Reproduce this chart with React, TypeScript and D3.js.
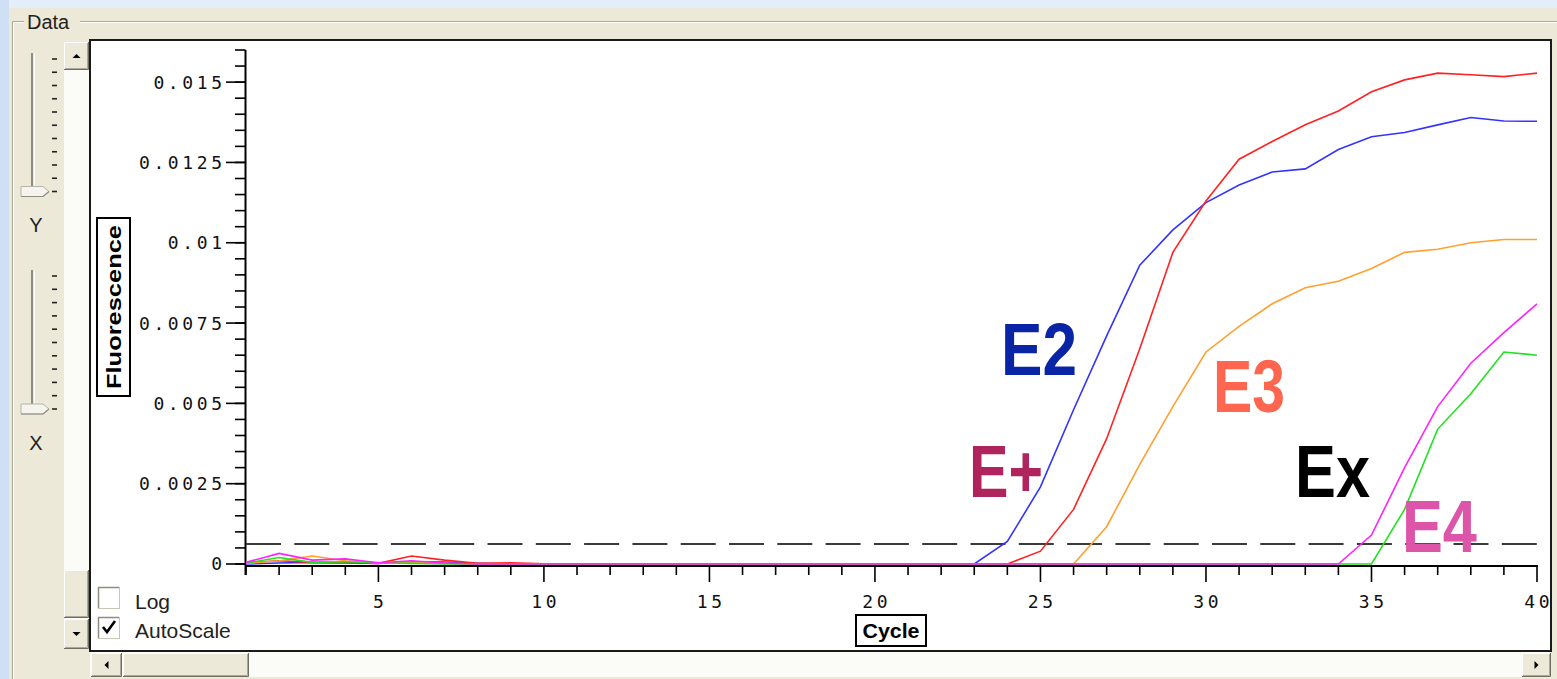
import React from "react";
import * as d3 from "d3";

// PCR amplification curves, cycles 1..40 (baseline-corrected fluorescence)
const cycles: number[] = d3.range(1, 41);

const blueSeries: number[] = [
  0, 0.00003, 0.00005, 0.00004, 0.00002, 0.00007, 0.00006, 0.00002, 0, 0,
  0, 0, 0, 0, 0, 0, 0, 0, 0, 0,
  0, 0, 0, 0.0007, 0.0024, 0.0048, 0.0071, 0.0093, 0.0104, 0.01125,
  0.0118, 0.0122, 0.0123, 0.0129, 0.0133, 0.01343, 0.01367, 0.0139, 0.01379, 0.01378,
];
const redSeries: number[] = [
  0.00004, 0.0001, 0.00005, 0.00003, 0.00002, 0.00025, 0.00012, 0.00002, 0.00004, 0.00001,
  0, 0, 0, 0, 0, 0, 0, 0, 0, 0,
  0, 0, 0, 0, 0.0004, 0.0017, 0.0039, 0.0067, 0.0097, 0.0113,
  0.0126, 0.01315, 0.01367, 0.0141, 0.0147, 0.01507, 0.01528, 0.01523, 0.01517, 0.01528,
];
const orangeSeries: number[] = [
  0.00002, 0.0001, 0.00025, 0.0001, 0.00003, 0.00006, 0.00002, 0, 0, 0,
  0, 0, 0, 0, 0, 0, 0, 0, 0, 0,
  0, 0, 0, 0, 0, 0, 0.00116, 0.0031, 0.0049, 0.0066,
  0.0074, 0.0081, 0.0086, 0.0088, 0.0092, 0.0097, 0.0098, 0.01, 0.0101, 0.0101,
];
const greenSeries: number[] = [
  0.00003, 0.0002, 0.00005, 0.00007, 0.00004, 0.00002, 0, 0, 0, 0,
  0, 0, 0, 0, 0, 0, 0, 0, 0, 0,
  0, 0, 0, 0, 0, 0, 0, 0, 0, 0,
  0, 0, 0, 0, 0, 0.0017, 0.0042, 0.0053, 0.0066, 0.0065,
];
const magentaSeries: number[] = [
  0.00005, 0.00033, 0.00012, 0.00016, 0.00004, 0.0001, 0.00003, 0, 0, 0,
  0, 0, 0, 0, 0, 0, 0, 0, 0, 0,
  0, 0, 0, 0, 0, 0, 0, 0, 0, 0,
  0, 0, 0, 0, 0.0009, 0.003, 0.0049, 0.00625, 0.0072, 0.0081,
];

const seriesList = [
  { name: "blue", values: blueSeries, color: "#3333ff" },
  { name: "red", values: redSeries, color: "#ff2222" },
  { name: "orange", values: orangeSeries, color: "#ffa030" },
  { name: "green", values: greenSeries, color: "#22e022" },
  { name: "magenta", values: magentaSeries, color: "#ff22ff" },
];

const threshold = 0.00062;

const yMajorTicks: number[] = [0, 0.0025, 0.005, 0.0075, 0.01, 0.0125, 0.015];
const yTickLabels: string[] = ["0", "0.0025", "0.005", "0.0075", "0.01", "0.0125", "0.015"];
const xMajorTicks: number[] = [5, 10, 15, 20, 25, 30, 35, 40];
const xTickLabels: string[] = ["5", "10", "15", "20", "25", "30", "35", "40"];

// Curve annotations: text, anchor cycle (left edge), anchor value (baseline)
const annotTexts: string[] = ["E2", "E3", "E+", "Ex", "E4"];
const annotCycles: number[] = [23.81, 30.21, 22.84, 32.69, 35.92];
const annotValues: number[] = [0.00588, 0.00473, 0.00209, 0.00209, 0.00037];
const annotColors: string[] = ["#0a24a6", "#ff6650", "#b0245e", "#000000", "#dc55a8"];
const annotWidths: number[] = [76, 72, 74, 75, 75];

const W = 1557;
const H = 679;
const BEIGE = "#ece9d8";
const SHADOW = "#aca899";
const DARK = "#716f64";

const tickFont = "'DejaVu Sans Mono', monospace";
const uiFont = "'Liberation Sans', Arial, sans-serif";
const LS = 3.6;

function Button({ x, y, w, h, dir }: { x: number; y: number; w: number; h: number; dir: string }) {
  const cx = x + w / 2;
  const cy = y + h / 2;
  let tri = "";
  if (dir === "up") tri = `M${cx - 4},${cy + 2} L${cx + 4},${cy + 2} L${cx},${cy - 2} Z`;
  if (dir === "down") tri = `M${cx - 4},${cy - 2} L${cx + 4},${cy - 2} L${cx},${cy + 2} Z`;
  if (dir === "left") tri = `M${cx + 2},${cy - 4} L${cx + 2},${cy + 4} L${cx - 2},${cy} Z`;
  if (dir === "right") tri = `M${cx - 2},${cy - 4} L${cx - 2},${cy + 4} L${cx + 2},${cy} Z`;
  return (
    <g>
      <rect x={x} y={y} width={w} height={h} fill={BEIGE} />
      <path d={`M${x + 0.5},${y + h} V${y + 0.5} H${x + w}`} stroke="#ffffff" fill="none" />
      <path d={`M${x},${y + h - 0.5} H${x + w - 0.5} V${y}`} stroke={DARK} fill="none" />
      <path d={`M${x + 1},${y + h - 1.5} H${x + w - 1.5} V${y + 1}`} stroke={SHADOW} fill="none" />
      {tri && <path d={tri} fill="#000" />}
    </g>
  );
}

function Slider({ top, bottom, label, labelY }: { top: number; bottom: number; label: string; labelY: number }) {
  const ticks = d3.range(0, 11).map((i) => top + ((bottom - top) * i) / 10);
  return (
    <g>
      <line x1={32} x2={32} y1={top - 6} y2={bottom + 2} stroke="#8f8c80" strokeWidth={2} />
      <line x1={34.5} x2={34.5} y1={top - 6} y2={bottom + 2} stroke="#ffffff" strokeWidth={1} />
      {ticks.map((t, i) => (
        <line key={i} x1={52} x2={57} y1={t} y2={t} stroke="#222" strokeWidth={1.6} />
      ))}
      <path
        d={`M21,${bottom - 5} H43 L49,${bottom} L43,${bottom + 5} H21 Z`}
        fill="#f5f4ee"
        stroke="#b8b5a6"
        strokeWidth={1}
      />
      <path d={`M21,${bottom + 5} H43 L49,${bottom}`} stroke="#8f8c80" fill="none" strokeWidth={1.2} />
      <text x={36} y={labelY} textAnchor="middle" dominantBaseline="central" fontFamily={uiFont} fontSize={20} fill="#222">
        {label}
      </text>
    </g>
  );
}

export default function App() {
  const x = d3.scaleLinear().domain([1, 40]).range([246, 1537]);
  const y = d3.scaleLinear().domain([0, 0.016]).range([564, 50]);

  const line = d3
    .line<number>()
    .x((_, i) => x(cycles[i]))
    .y((d) => y(d))
    .curve(d3.curveLinear);

  const yMinor = d3.range(0, 0.01601, 0.0005);
  const axisX = 245.5;
  const axisY = 566;
  const thrY = y(threshold);

  return (
    <div style={{ position: "fixed", left: 0, top: 0, width: W, height: H }}>
      <svg width={W} height={H} viewBox={`0 0 ${W} ${H}`} style={{ display: "block" }}>
        <defs>
          <linearGradient id="bgBlue" x1="0" y1="0" x2="0" y2="1">
            <stop offset="0" stopColor="#e3eefa" />
            <stop offset="1" stopColor="#d2e2f5" />
          </linearGradient>
        </defs>
        {/* window background */}
        <rect x={0} y={0} width={W} height={H} fill="url(#bgBlue)" />
        <rect x={0} y={0} width={9} height={H} fill="#cfe0f4" />
        <rect x={9} y={8} width={W - 9} height={H - 8} fill={BEIGE} />

        {/* group box */}
        <path d={`M12.5,${H} V21.5 H24`} stroke={SHADOW} fill="none" />
        <path d={`M13.5,${H} V22.5 H24`} stroke="#ffffff" fill="none" />
        <path d={`M80,21.5 H${W}`} stroke={SHADOW} fill="none" />
        <path d={`M80,22.5 H${W}`} stroke="#ffffff" fill="none" />
        <text x={27} y={29} fontFamily={uiFont} fontSize={20} fill="#222">
          Data
        </text>

        {/* zoom sliders */}
        <Slider top={59} bottom={191.5} label="Y" labelY={225} />
        <Slider top={276} bottom={409} label="X" labelY={443} />

        {/* vertical scrollbar */}
        <rect x={64} y={42} width={25} height={607} fill="#fbfbf8" />
        <Button x={64} y={42} w={25} h={28} dir="up" />
        <Button x={64} y={570} w={25} h={48} dir="" />
        <Button x={64} y={619} w={25} h={30} dir="down" />

        {/* horizontal scrollbar */}
        <rect x={90} y={652} width={1461} height={25} fill="#fbfbf8" />
        <Button x={91} y={653} w={31} h={24} dir="left" />
        <Button x={123} y={653} w={126} h={24} dir="" />
        <Button x={1522} y={653} w={29} h={24} dir="right" />

        {/* plot panel */}
        <rect x={90} y={40} width={1461} height={611} fill="#ffffff" stroke="#1a1a1a" strokeWidth={2} />

        {/* y axis */}
        <line x1={axisX} x2={axisX} y1={y(0.016)} y2={575} stroke="#000" strokeWidth={2} />
        {yMinor.map((v, i) => (
          <line key={`ym${i}`} x1={235} x2={axisX} y1={y(v)} y2={y(v)} stroke="#000" strokeWidth={1.6} />
        ))}
        {yMajorTicks.map((v, i) => (
          <g key={`yM${i}`}>
            <line x1={226} x2={axisX} y1={y(v)} y2={y(v)} stroke="#000" strokeWidth={1.6} />
            <text
              x={222 + LS}
              y={y(v)}
              dy="0.36em"
              textAnchor="end"
              fontFamily={tickFont}
              fontSize={18}
              letterSpacing={LS}
              fill="#111"
            >
              {yTickLabels[i]}
            </text>
          </g>
        ))}

        {/* x axis */}
        <line x1={axisX} x2={x(40) + 1} y1={axisY} y2={axisY} stroke="#000" strokeWidth={2} />
        {cycles.map((c) => (
          <line
            key={`xt${c}`}
            x1={x(c)}
            x2={x(c)}
            y1={axisY}
            y2={c % 5 === 0 ? 582 : 575}
            stroke="#000"
            strokeWidth={1.6}
          />
        ))}
        {xMajorTicks.map((c, i) => (
          <text
            key={`xl${c}`}
            x={x(c) + LS / 2}
            y={608}
            textAnchor="middle"
            fontFamily={tickFont}
            fontSize={18}
            letterSpacing={LS}
            fill="#111"
          >
            {xTickLabels[i]}
          </text>
        ))}

        {/* axis titles */}
        <rect x={856} y={615} width={70} height={31} fill="#fff" stroke="#000" strokeWidth={2} />
        <text
          x={891}
          y={638}
          textAnchor="middle"
          fontFamily={uiFont}
          fontWeight="bold"
          fontSize={21}
          textLength={57}
          lengthAdjust="spacingAndGlyphs"
          fill="#000"
        >
          Cycle
        </text>
        <rect x={97} y={218} width={33} height={178} fill="#fff" stroke="#000" strokeWidth={2} />
        <text
          transform="translate(121,307) rotate(-90)"
          textAnchor="middle"
          fontFamily={uiFont}
          fontWeight="bold"
          fontSize={21}
          textLength={164}
          lengthAdjust="spacingAndGlyphs"
          fill="#000"
        >
          Fluorescence
        </text>

        {/* threshold */}
        <line
          x1={x(1)}
          x2={x(40)}
          y1={thrY}
          y2={thrY}
          stroke="#3a3a3a"
          strokeWidth={2}
          strokeDasharray="35 13.3"
        />

        {/* amplification curves */}
        {seriesList.map((s) => (
          <path key={s.name} d={line(s.values) || ""} fill="none" stroke={s.color} strokeWidth={1.6} />
        ))}

        {/* curve labels */}
        {annotTexts.map((t, i) => (
          <text
            key={t}
            x={x(annotCycles[i])}
            y={y(annotValues[i])}
            fontFamily={uiFont}
            fontWeight="bold"
            fontSize={75}
            textLength={annotWidths[i]}
            lengthAdjust="spacingAndGlyphs"
            fill={annotColors[i]}
          >
            {t}
          </text>
        ))}

        {/* options */}
        <rect x={98.5} y={587.5} width={21} height={21} fill="#fff" stroke="#c9c6b8" strokeWidth={1} />
        <path d="M98.5,608 V587.5 H119" stroke="#8f8c80" fill="none" strokeWidth={1.5} />
        <text x={135} y={609} fontFamily={uiFont} fontSize={21} fill="#222">
          Log
        </text>
        <rect x={98.5} y={617.5} width={21} height={21} fill="#fff" stroke="#c9c6b8" strokeWidth={1} />
        <path d="M98.5,638 V617.5 H119" stroke="#8f8c80" fill="none" strokeWidth={1.5} />
        <path d="M103,627 L107,632 L115,621" stroke="#000" strokeWidth={2.6} fill="none" />
        <text x={135} y={638} fontFamily={uiFont} fontSize={21} fill="#222">
          AutoScale
        </text>
      </svg>
    </div>
  );
}
